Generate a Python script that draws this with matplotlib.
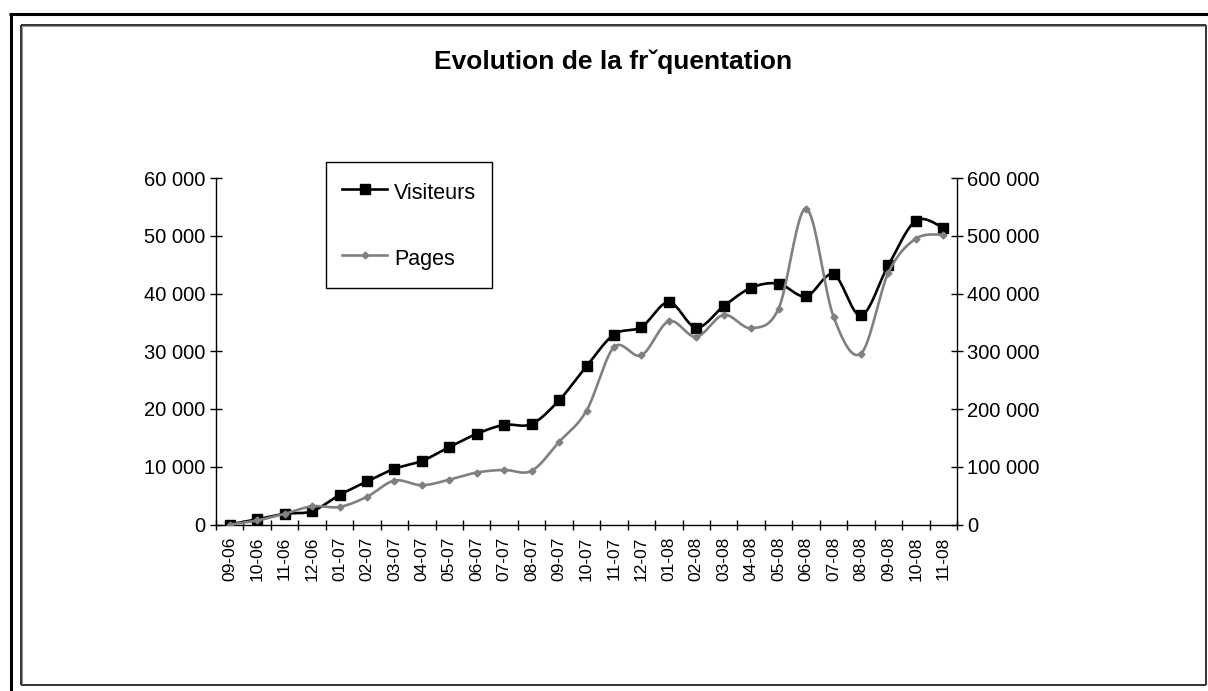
import numpy as np
import matplotlib
matplotlib.use('Agg')
import matplotlib.pyplot as plt
from matplotlib.lines import Line2D
from matplotlib.ticker import FuncFormatter, FixedLocator

plt.rcParams['font.family'] = ['Liberation Sans', 'DejaVu Sans']

W, H = 1208, 691

months = ['09-06', '10-06', '11-06', '12-06', '01-07', '02-07', '03-07', '04-07',
          '05-07', '06-07', '07-07', '08-07', '09-07', '10-07', '11-07', '12-07',
          '01-08', '02-08', '03-08', '04-08', '05-08', '06-08', '07-08', '08-08',
          '09-08', '10-08', '11-08']
visiteurs = [0, 900, 1850, 2300, 5100, 7450, 9650, 11000, 13400, 15700, 17250,
             17400, 21500, 27400, 32900, 34200, 38500, 34100, 37800, 41000,
             41700, 39500, 43300, 36200, 44900, 52600, 51400]
pages = [0, 7000, 18500, 31500, 30500, 48000, 76000, 68000, 77500, 90000, 94500,
         93000, 143000, 197000, 307000, 293000, 352000, 325000, 363000, 340000,
         374000, 547000, 360000, 296000, 436000, 495000, 502000]

TITLE = 'Evolution de la fr\u02c7quentation'
GREY = '#808080'


def smooth(x, y, n=20):
    # Catmull-Rom spline, close to Excel's "smoothed line"
    x = np.asarray(x, float)
    y = np.asarray(y, float)
    px = np.concatenate([[x[0]], x, [x[-1]]])
    py = np.concatenate([[y[0]], y, [y[-1]]])
    xs, ys = [], []
    t = np.linspace(0, 1, n, endpoint=False)
    for i in range(1, len(px) - 2):
        for p, out in ((px, xs), (py, ys)):
            p0, p1, p2, p3 = p[i - 1], p[i], p[i + 1], p[i + 2]
            out.extend(0.5 * (2 * p1 + (-p0 + p2) * t
                              + (2 * p0 - 5 * p1 + 4 * p2 - p3) * t ** 2
                              + (-p0 + 3 * p1 - 3 * p2 + p3) * t ** 3))
    xs.append(x[-1])
    ys.append(y[-1])
    return np.array(xs), np.array(ys)


def space_thousands(v, _):
    return f'{v:,.0f}'.replace(',', ' ')


fig = plt.figure(figsize=(W / 100, H / 100), dpi=100)

# frame lines (pixel coords -> figure fraction)
def fline(x0, y0, x1, y1, lw, color):
    fig.add_artist(Line2D([x0 / W, x1 / W], [1 - y0 / H, 1 - y1 / H],
                          lw=lw, color=color, transform=fig.transFigure,
                          solid_capstyle='butt'))

fline(9, 14, W, 14, 2.2, 'black')
fline(10.5, 13, 10.5, H, 2.2, 'black')
fline(20.5, 24.5, 1206, 24.5, 1.3, '#222222')
fline(20.5, 24.5, 20.5, 685, 1.3, '#222222')
fline(1206, 24.5, 1206, 685, 1.3, '#222222')
fline(20.5, 685, 1206, 685, 1.3, '#222222')
fline(22, 26, 1205, 26, 0.8, '#999999')
fline(22, 26, 22, 684, 0.8, '#999999')

left, right = 216 / W, 957 / W
bottom, top = 1 - 524.5 / H, 1 - 178 / H
ax = fig.add_axes([left, bottom, right - left, top - bottom])
ax2 = ax.twinx()

x = np.arange(len(months))

sx, sy = smooth(x, visiteurs)
ax.plot(sx, sy, color='black', lw=1.9, zorder=3)
ax.plot(x, visiteurs, ls='none', marker='s', ms=7, color='black', zorder=4)

px, py = smooth(x, pages)
ax2.plot(px, py, color=GREY, lw=1.9, zorder=3)
ax2.plot(x, pages, ls='none', marker='D', ms=3.5, color=GREY, zorder=4)

ax.set_xlim(-0.5, len(months) - 0.5)
ax.set_ylim(0, 60000)
ax2.set_ylim(0, 600000)
ax.set_yticks(np.arange(0, 60001, 10000))
ax2.set_yticks(np.arange(0, 600001, 100000))
ax.yaxis.set_major_formatter(FuncFormatter(space_thousands))
ax2.yaxis.set_major_formatter(FuncFormatter(space_thousands))

ax.xaxis.set_major_locator(FixedLocator(np.arange(-0.5, len(months), 1.0)))
ax.xaxis.set_minor_locator(FixedLocator(x))
ax.set_xticklabels([])
ax.set_xticklabels(months, minor=True, rotation=90, fontsize=12.5)
ax.tick_params(axis='x', which='major', direction='inout', length=7.5, width=1)
ax.tick_params(axis='x', which='minor', length=0, pad=9)
ax.tick_params(axis='y', direction='inout', length=8.6, width=1, labelsize=14.5, pad=3.5)
ax2.tick_params(axis='y', direction='inout', length=8.6, width=1, labelsize=14.5, pad=3)

for a in (ax, ax2):
    a.spines['top'].set_visible(False)
    for s in a.spines.values():
        s.set_linewidth(1)
ax.spines['right'].set_visible(False)
ax2.spines['left'].set_visible(False)
ax2.spines['bottom'].set_visible(False)

fig.text(613 / W, 1 - 62 / H, TITLE, ha='center', va='center',
         fontsize=19, fontweight='bold')

handles = [Line2D([], [], color='black', lw=1.9, marker='s', ms=7),
           Line2D([], [], color=GREY, lw=1.9, marker='D', ms=3.5)]
leg = fig.legend(handles, ['Visiteurs', 'Pages'], loc='upper left',
                 bbox_to_anchor=(326 / W, 1 - 162 / H), bbox_transform=fig.transFigure,
                 borderaxespad=0, fontsize=15.5, handlelength=2.1, handletextpad=0.3,
                 handleheight=1.6, labelspacing=1.8, borderpad=0.75,
                 fancybox=False, shadow=False, framealpha=1, edgecolor='black')
leg.get_frame().set_linewidth(1)

fig.savefig('out.png', dpi=100)
